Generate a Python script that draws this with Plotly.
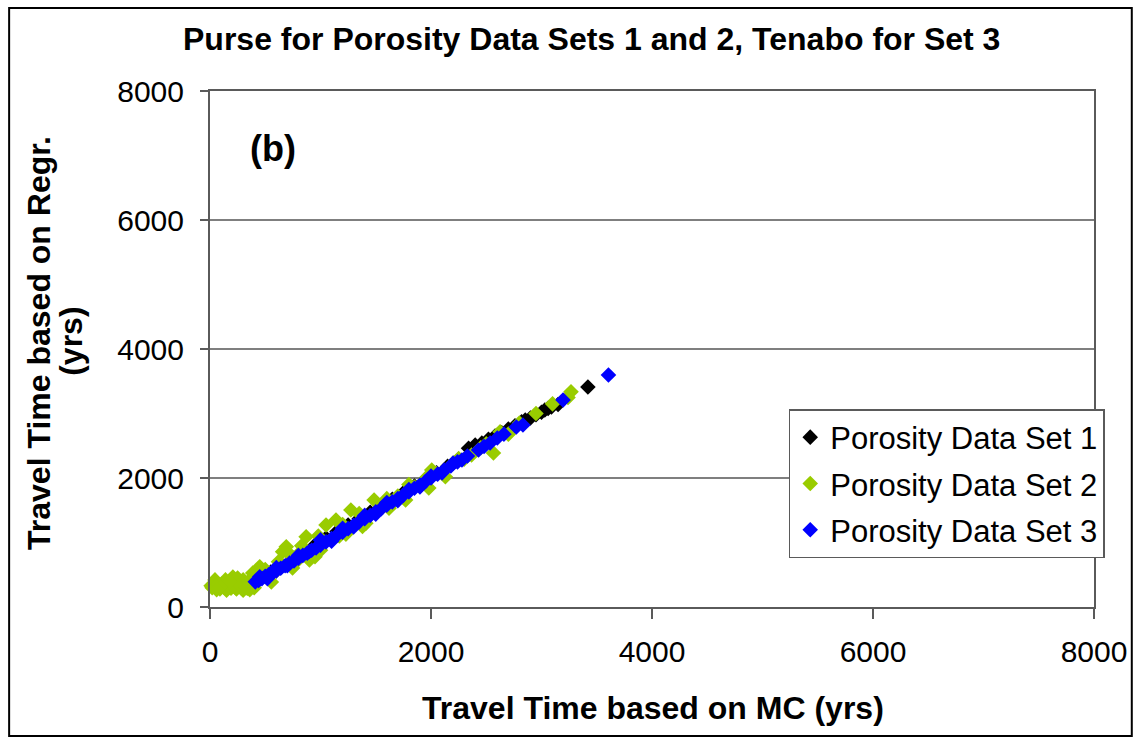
import plotly.graph_objects as go

# ---- data ----
set1_x = [450, 550, 650, 750, 850, 950, 1050, 1150, 1250, 1350,
          1450, 1550, 1650, 1750, 1850, 1950, 2050, 2150, 2250, 2340,
          2400, 2460, 2520, 2580, 2640, 2700, 2760, 2820, 2853, 2900,
          2950, 3000, 3030, 3060, 3090, 3150, 3420]
set1_y = [440, 540, 650, 760, 860, 960, 1070, 1170, 1270, 1370,
          1470, 1570, 1670, 1770, 1875, 1975, 2080, 2180, 2290, 2460,
          2512, 2540, 2600, 2650, 2700, 2760, 2810, 2870, 2899, 2930,
          2980, 3020, 3054, 3080, 3100, 3140, 3411]

set2_x = [20, 45, 60, 90, 110, 130, 150, 170, 190, 207,
          220, 240, 260, 280, 300, 320, 340, 360, 380, 400,
          300, 250, 387, 450, 555, 600, 657, 690, 747, 800,
          870, 900, 950, 1050, 1100, 1140, 1170, 1275, 1300, 1410,
          1485, 1550, 1650, 1700, 1770, 1850, 1900, 1980, 2007, 2130,
          2200, 2300, 2367, 2450, 2565, 2625, 2700, 3240, 3267,
          10, 75, 140, 230, 270, 330, 350, 180, 100, 60,
          500, 520, 620, 720, 780, 830, 980, 1000, 1200, 1230,
          1350, 1380, 1600, 1620, 1800, 1750, 1950, 2050, 2250, 2500,
          2800, 2950, 3100]
set2_y = [300, 420, 330, 280, 360, 300, 260, 330, 290, 465,
          350, 280, 400, 300, 260, 350, 290, 270, 330, 300,
          420, 450, 527, 625, 388, 560, 857, 935, 604, 820,
          1090, 729, 780, 1271, 1050, 1349, 1100, 1504, 1260, 1297,
          1659, 1530, 1610, 1720, 1659, 1860, 1870, 1845, 2124, 2020,
          2230, 2290, 2357, 2470, 2388, 2718, 2680, 3250, 3338,
          330, 360, 420, 300, 340, 300, 400, 400, 310, 270,
          580, 450, 700, 820, 700, 950, 1100, 880, 1280, 1130,
          1450, 1250, 1680, 1530, 1900, 1700, 1990, 2070, 2300, 2530,
          2850, 3000, 3150]

set3_x = [410, 440, 470, 500, 530, 560, 600, 640, 680, 720,
          760, 800, 840, 880, 920, 960, 1000, 1050, 1100, 1150,
          1200, 1250, 1300, 1350, 1400, 1450, 1500, 1550, 1600, 1650,
          1700, 1750, 1800, 1850, 1900, 1950, 2000, 2060, 2120, 2180,
          2240, 2280, 2330, 2430, 2480, 2535, 2600, 2660, 2772, 2832,
          3195, 3606,
          450, 520, 600, 700, 800, 900, 1000, 1100, 1200, 1300,
          1400, 1500, 1600, 1700, 1800, 1900, 2000, 2100, 2200]
set3_y = [390, 410, 440, 475, 500, 520, 560, 600, 640, 680,
          715, 755, 800, 835, 880, 915, 960, 1010, 1060, 1115,
          1160, 1215, 1265, 1320, 1370, 1420, 1475, 1525, 1580, 1630,
          1680, 1735, 1785, 1840, 1890, 1945, 2000, 2060, 2125, 2185,
          2250, 2279, 2340, 2434, 2490, 2543, 2620, 2680, 2791, 2822,
          3209, 3597,
          470, 440, 610, 640, 800, 860, 1040, 1020, 1220, 1240,
          1420, 1440, 1620, 1650, 1820, 1860, 2030, 2080, 2230]

series_names = ["Porosity Data Set 1", "Porosity Data Set 2", "Porosity Data Set 3"]
series_colors = ["#000000", "#99CC00", "#0000FF"]
axis_ticks = [0, 2000, 4000, 6000, 8000]

title_text = "Purse for Porosity Data Sets 1 and 2, Tenabo for Set 3"
x_title = "Travel Time based on MC (yrs)"
y_title_1 = "Travel Time based on Regr."
y_title_2 = "(yrs)"
panel_label = "(b)"

FONT = "Liberation Sans, Arial, sans-serif"
W, H = 1139, 738
L, R, T, B = 210, 1099, 91, 607  # plot area in pixels


def px(xp):
    return (xp - L) / (R - L)


def py(yp):
    return (B - yp) / (B - T)


fig = go.Figure()
for i, (xs, ys) in enumerate([(set1_x, set1_y), (set2_x, set2_y), (set3_x, set3_y)]):
    fig.add_trace(go.Scatter(
        x=xs, y=ys, mode="markers", name=series_names[i],
        legendgroup=f"g{i}",
        marker=dict(symbol="diamond", size=12, color=series_colors[i], line=dict(width=0)),
        cliponaxis=False,
    ))

axis_common = dict(
    range=[0, 8000], tickvals=axis_ticks, ticks="outside",
    showline=True, linecolor="#5a5a5a", linewidth=2, mirror=True,
    tickcolor="#5a5a5a", tickwidth=2,
    tickfont=dict(family=FONT, size=30, color="black"),
    zeroline=False, fixedrange=True,
)

fig.update_xaxes(**axis_common, ticklen=10, showgrid=False, ticklabelstandoff=7)
fig.update_yaxes(**axis_common, ticklen=8, showgrid=True, gridcolor="#7f7f7f",
                 gridwidth=1.5, ticklabelstandoff=10)

annotations = [
    dict(text=f"<b>{title_text}</b>", x=px(594), y=py(39), font=dict(size=32)),
    dict(text=f"<b>{x_title}</b>", x=px(656), y=py(708), font=dict(size=32)),
    dict(text=f"<b>{y_title_1}</b>", x=px(38), y=py(343), font=dict(size=32), textangle=-90),
    dict(text=f"<b>{y_title_2}</b>", x=px(70), y=py(341), font=dict(size=32), textangle=-90),
    dict(text=f"<b>{panel_label}</b>", x=px(273), y=py(148), font=dict(size=36)),
]
for a in annotations:
    a.update(xref="paper", yref="paper", showarrow=False, xanchor="center", yanchor="middle")
    a["font"].update(family=FONT, color="black")

fig.update_layout(
    width=W, height=H,
    margin=dict(l=L, r=W - R, t=T, b=H - B, pad=0),
    paper_bgcolor="white", plot_bgcolor="white",
    showlegend=True,
    legend=dict(
        x=px(792), y=py(409), xanchor="left", yanchor="top",
        bgcolor="white", bordercolor="#5a5a5a", borderwidth=1.5,
        font=dict(family=FONT, size=31, color="black"),
        traceorder="grouped", tracegroupgap=3,
    ),
    annotations=annotations,
    shapes=[dict(type="rect", xref="paper", yref="paper",
                 x0=px(8), x1=px(1137), y0=py(736), y1=py(8),
                 line=dict(color="black", width=2), layer="below")],
)

fig.write_html("out.html")
